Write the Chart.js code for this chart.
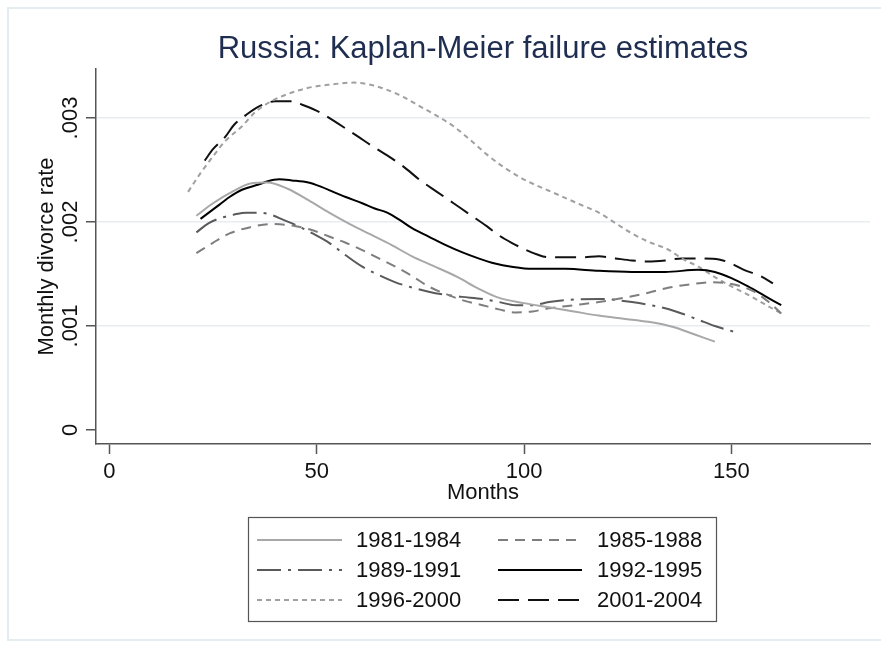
<!doctype html>
<html>
<head>
  <meta charset="UTF-8">
  <script src="https://cdn.jsdelivr.net/npm/chart.js"></script>
  <style>
    html, body { margin: 0; padding: 0; background: #fff; }
    #wrap { width: 881px; height: 646px; }
  </style>
</head>
<body>
<div id="wrap"><canvas id="kmChart" width="881" height="646"></canvas></div>
<script>
  // cohort labels
  const cohorts = ['1981-1984', '1985-1988', '1989-1991', '1992-1995', '1996-2000', '2001-2004'];

  // values (months, monthly divorce rate)
  const months8184 = [21, 25, 30, 34, 38, 43, 48, 53, 58, 63, 68, 73, 78, 84, 89, 94, 100, 106, 112, 118, 124, 130, 136, 141, 146];
  const rate8184 = [0.00206, 0.00218, 0.0023, 0.00237, 0.00238, 0.00232, 0.00221, 0.00209, 0.00198, 0.00188, 0.00178, 0.00167, 0.00158, 0.00147, 0.00136, 0.00127, 0.00122, 0.00118, 0.00114, 0.0011, 0.00107, 0.00104, 0.00099, 0.00092, 0.00085];

  const months8588 = [21, 25, 29, 34, 39, 45, 49, 53, 57, 61, 65, 69, 73, 77, 81, 85, 90, 94, 98, 102, 106, 112, 118, 124, 130, 135, 140, 145, 149, 155, 159, 162];
  const rate8588 = [0.0017, 0.0018, 0.00189, 0.00195, 0.00198, 0.00196, 0.00192, 0.00186, 0.0018, 0.00173, 0.00165, 0.00157, 0.00148, 0.00138, 0.00131, 0.00125, 0.0012, 0.00116, 0.00113, 0.00114, 0.00117, 0.0012, 0.00123, 0.00127, 0.00132, 0.00137, 0.0014, 0.00142, 0.00141, 0.00134, 0.00123, 0.00112];

  const months8991 = [21, 24, 27, 30, 33, 36, 39, 42, 45, 49, 53, 57, 61, 65, 69, 73, 77, 81, 85, 90, 94, 98, 102, 106, 110, 118, 126, 134, 138, 142, 146, 151];
  const rate8991 = [0.0019, 0.00199, 0.00204, 0.00207, 0.00209, 0.00209, 0.00207, 0.00202, 0.00197, 0.00189, 0.0018, 0.00168, 0.00157, 0.00149, 0.00142, 0.00137, 0.00133, 0.0013, 0.00128, 0.00126, 0.00123, 0.0012, 0.0012, 0.00123, 0.00125, 0.00126, 0.00123, 0.00117, 0.00112, 0.00106, 0.001, 0.00094];

  const months9295 = [22, 26, 29, 32, 36, 38, 41, 44, 48, 51, 54, 57, 61, 64, 67, 70, 73, 77, 81, 85, 89, 93, 97, 102, 110, 118, 126, 134, 142, 146, 150, 154, 158, 162];
  const rate9295 = [0.00203, 0.00215, 0.00224, 0.00231, 0.00236, 0.00239, 0.00241, 0.0024, 0.00238, 0.00234, 0.00229, 0.00224, 0.00218, 0.00213, 0.00209, 0.00202, 0.00194, 0.00186, 0.00178, 0.00171, 0.00165, 0.0016, 0.00157, 0.00155, 0.00155, 0.00153, 0.00152, 0.00152, 0.00154, 0.00152, 0.00146, 0.00138, 0.00129, 0.0012];

  const months9600 = [19, 22, 25, 28, 32, 35, 39, 43, 48, 53, 59, 63, 67, 71, 75, 79, 83, 87, 91, 95, 99, 102, 106, 110, 114, 118, 122, 126, 130, 135, 138, 142, 146, 150, 154, 158, 162];
  const rate9600 = [0.00229, 0.00247, 0.00263, 0.00278, 0.00292, 0.00305, 0.00316, 0.00323, 0.00329, 0.00332, 0.00334, 0.00332, 0.00327, 0.0032, 0.00311, 0.00302, 0.00292, 0.00279, 0.00265, 0.00253, 0.00243, 0.00237, 0.0023, 0.00223, 0.00216, 0.00209, 0.00199, 0.00189, 0.00181, 0.00173, 0.00165, 0.00157, 0.00147, 0.00138, 0.0013, 0.00121, 0.00112];

  const months0104 = [23, 25, 28, 30, 33, 36, 40, 44, 47, 51, 55, 60, 63, 67, 71, 75, 79, 83, 87, 91, 94, 97, 100, 103, 106, 114, 118, 122, 126, 130, 134, 138, 143, 147, 150, 153, 157, 160];
  const rate0104 = [0.00259, 0.0027, 0.00282, 0.00293, 0.00303, 0.00311, 0.00316, 0.00316, 0.00312, 0.00305, 0.00295, 0.00282, 0.00274, 0.00264, 0.00253, 0.0024, 0.00229, 0.00218, 0.00207, 0.00196, 0.00187, 0.0018, 0.00174, 0.00169, 0.00166, 0.00166, 0.00167, 0.00165, 0.00163, 0.00162, 0.00163, 0.00165, 0.00165, 0.00164, 0.0016, 0.00154, 0.00148, 0.00141];

  // axis ticks
  const xTicks = [0, 50, 100, 150];
  const yTicks = [0, 0.001, 0.002, 0.003];
  const yTickLabels = ['0', '.001', '.002', '.003'];

  const FONT = "'Liberation Sans', Arial, sans-serif";

  function pts(xs, ys) {
    return xs.map((x, i) => ({ x: x, y: ys[i] }));
  }

  function line(label, xs, ys, color, dash) {
    return {
      label: label,
      data: pts(xs, ys),
      borderColor: color,
      borderWidth: 2,
      borderDash: dash,
      pointRadius: 0,
      fill: false,
      cubicInterpolationMode: 'monotone'
    };
  }

  // title, rotated y labels, framed legend and outer frame
  const stataBits = {
    id: 'stataBits',
    afterDraw(chart) {
      const ctx = chart.ctx;
      const yScale = chart.scales.y;
      ctx.save();

      // outer frame
      ctx.strokeStyle = '#E3ECEF';
      ctx.lineWidth = 2;
      ctx.strokeRect(8, 8, 890, 632);

      // title
      ctx.fillStyle = '#1E2D50';
      ctx.font = '31px ' + FONT;
      ctx.textAlign = 'center';
      ctx.textBaseline = 'middle';
      ctx.fillText('Russia: Kaplan-Meier failure estimates', 483, 49);

      // y tick labels, vertical
      ctx.fillStyle = '#111';
      ctx.font = '22px ' + FONT;
      yTicks.forEach((v, i) => {
        const py = yScale.getPixelForValue(v);
        ctx.save();
        ctx.translate(71, py);
        ctx.rotate(-Math.PI / 2);
        ctx.fillText(yTickLabels[i], 0, 0);
        ctx.restore();
      });

      // legend
      ctx.strokeStyle = '#555';
      ctx.lineWidth = 1.2;
      ctx.setLineDash([]);
      ctx.strokeRect(248.5, 517.5, 468, 104);
      const rows = [540, 570, 600];
      const cols = [{ x0: 257, x1: 342, tx: 356 }, { x0: 498, x1: 582, tx: 597 }];
      ctx.font = '22px ' + FONT;
      ctx.textAlign = 'left';
      chart.data.datasets.forEach((ds, i) => {
        const c = cols[i % 2];
        const y = rows[Math.floor(i / 2)];
        ctx.strokeStyle = ds.borderColor;
        ctx.lineWidth = ds.borderWidth;
        ctx.setLineDash(ds.borderDash || []);
        ctx.beginPath();
        ctx.moveTo(c.x0, y);
        ctx.lineTo(c.x1, y);
        ctx.stroke();
        ctx.setLineDash([]);
        ctx.fillStyle = '#111';
        ctx.fillText(ds.label, c.tx, y + 1);
      });

      ctx.restore();
    }
  };

  const ctx = document.getElementById('kmChart').getContext('2d');
  const kmChart = new Chart(ctx, {
    type: 'line',
    data: {
      datasets: [
        line(cohorts[0], months8184, rate8184, '#A8A8A8', []),
        line(cohorts[1], months8588, rate8588, '#7E7E7E', [10, 7]),
        line(cohorts[2], months8991, rate8991, '#5A5A5A', [24, 7, 3, 7]),
        line(cohorts[3], months9295, rate9295, '#000000', []),
        line(cohorts[4], months9600, rate9600, '#A0A0A0', [5, 4]),
        line(cohorts[5], months0104, rate0104, '#111111', [21, 9])
      ]
    },
    options: {
      responsive: false,
      animation: false,
      layout: { padding: { top: 69, left: 0, right: 11, bottom: 140 } },
      plugins: {
        legend: { display: false },
        title: { display: false },
        tooltip: { enabled: false }
      },
      scales: {
        x: {
          type: 'linear',
          min: -3.2,
          max: 183.4,
          afterFit: s => { s.height = 62; },
          afterBuildTicks: s => { s.ticks = xTicks.map(v => ({ value: v })); },
          grid: { drawOnChartArea: false, tickLength: 10, tickColor: '#555', tickWidth: 1.5 },
          border: { color: '#555', width: 1.5 },
          ticks: { color: '#111', font: { family: FONT, size: 22 }, padding: 5, maxRotation: 0, autoSkip: false },
          title: { display: true, text: 'Months', color: '#111', font: { family: FONT, size: 22 }, padding: { top: 0, bottom: 0 } }
        },
        y: {
          type: 'linear',
          min: -0.0001346,
          max: 0.003471,
          afterFit: s => { s.width = 96; },
          afterBuildTicks: s => { s.ticks = yTicks.map(v => ({ value: v })); },
          grid: {
            color: c => (c.tick && c.tick.value === 0) ? 'rgba(0,0,0,0)' : '#E6EEF1',
            lineWidth: 1.5,
            tickLength: 10,
            tickColor: '#555',
            tickWidth: 1.5
          },
          border: { color: '#555', width: 1.5 },
          ticks: { display: false },
          title: { display: true, text: 'Monthly divorce rate', color: '#111', font: { family: FONT, size: 22 }, padding: { top: 34, bottom: 0 } }
        }
      }
    },
    plugins: [stataBits]
  });
</script>
</body>
</html>
